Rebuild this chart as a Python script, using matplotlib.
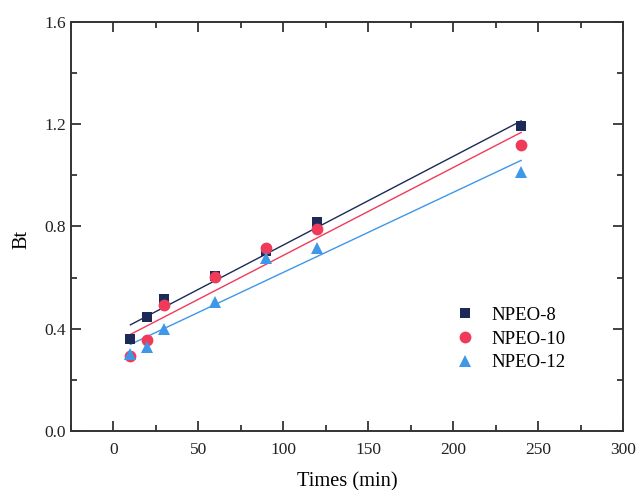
import numpy as np
import matplotlib
matplotlib.use('Agg')
import matplotlib.pyplot as plt
from matplotlib.ticker import MultipleLocator

plt.rcParams['font.family'] = ['Liberation Serif', 'DejaVu Serif']

times = [10, 20, 30, 60, 90, 120, 240]
npeo8 = [0.360, 0.444, 0.515, 0.608, 0.703, 0.818, 1.192]
npeo10 = [0.292, 0.356, 0.491, 0.601, 0.714, 0.790, 1.117]
npeo12 = [0.300, 0.327, 0.400, 0.504, 0.675, 0.717, 1.012]
labels = ['NPEO-8', 'NPEO-10', 'NPEO-12']

colors = ['#1b2a56', '#f03a5a', '#3f97e8']
markers = ['s', 'o', '^']
msizes = [7, 8.5, 9]

fig = plt.figure(figsize=(6.36, 4.9), dpi=100)
ax = fig.add_axes([0.1116, 0.1204, 0.868, 0.835])

x = np.array(times)
for ys, lab, c, m, s in zip([npeo8, npeo10, npeo12], labels, colors, markers, msizes):
    ax.plot(x, ys, linestyle='none', marker=m, color=c, markersize=s,
            markeredgewidth=0, label=lab, zorder=3)
    k, b = np.polyfit(x, ys, 1)
    xx = np.array([x.min(), x.max()])
    ax.plot(xx, k * xx + b, color=c, lw=1.0, zorder=2)

ax.set_xlim(-25, 300)
ax.set_ylim(0, 1.6)
ax.xaxis.set_major_locator(MultipleLocator(50))
ax.xaxis.set_minor_locator(MultipleLocator(25))
ax.yaxis.set_major_locator(MultipleLocator(0.4))
ax.yaxis.set_minor_locator(MultipleLocator(0.2))
ax.yaxis.set_major_formatter(matplotlib.ticker.FormatStrFormatter('%.1f'))
ax.tick_params(which='both', direction='in', top=True, right=True,
               labelsize=12.5, colors='#222222', width=1.2)
ax.tick_params(which='major', length=7)
ax.tick_params(which='minor', length=4)
ax.tick_params(axis='x', pad=8)
for sp in ax.spines.values():
    sp.set_linewidth(1.4)
    sp.set_color('#333333')

ax.set_xlabel('Times (min)', fontsize=14.7, labelpad=10)
ax.set_ylabel('Bt', fontsize=14.7)
ax.yaxis.set_label_coords(-0.072, 0.467)

ax.legend(loc='upper left', bbox_to_anchor=(0.666, 0.345), frameon=False,
          fontsize=13.5, handletextpad=0.9, labelspacing=0.35, handlelength=1.0)

plt.savefig('out.png', dpi=100)
